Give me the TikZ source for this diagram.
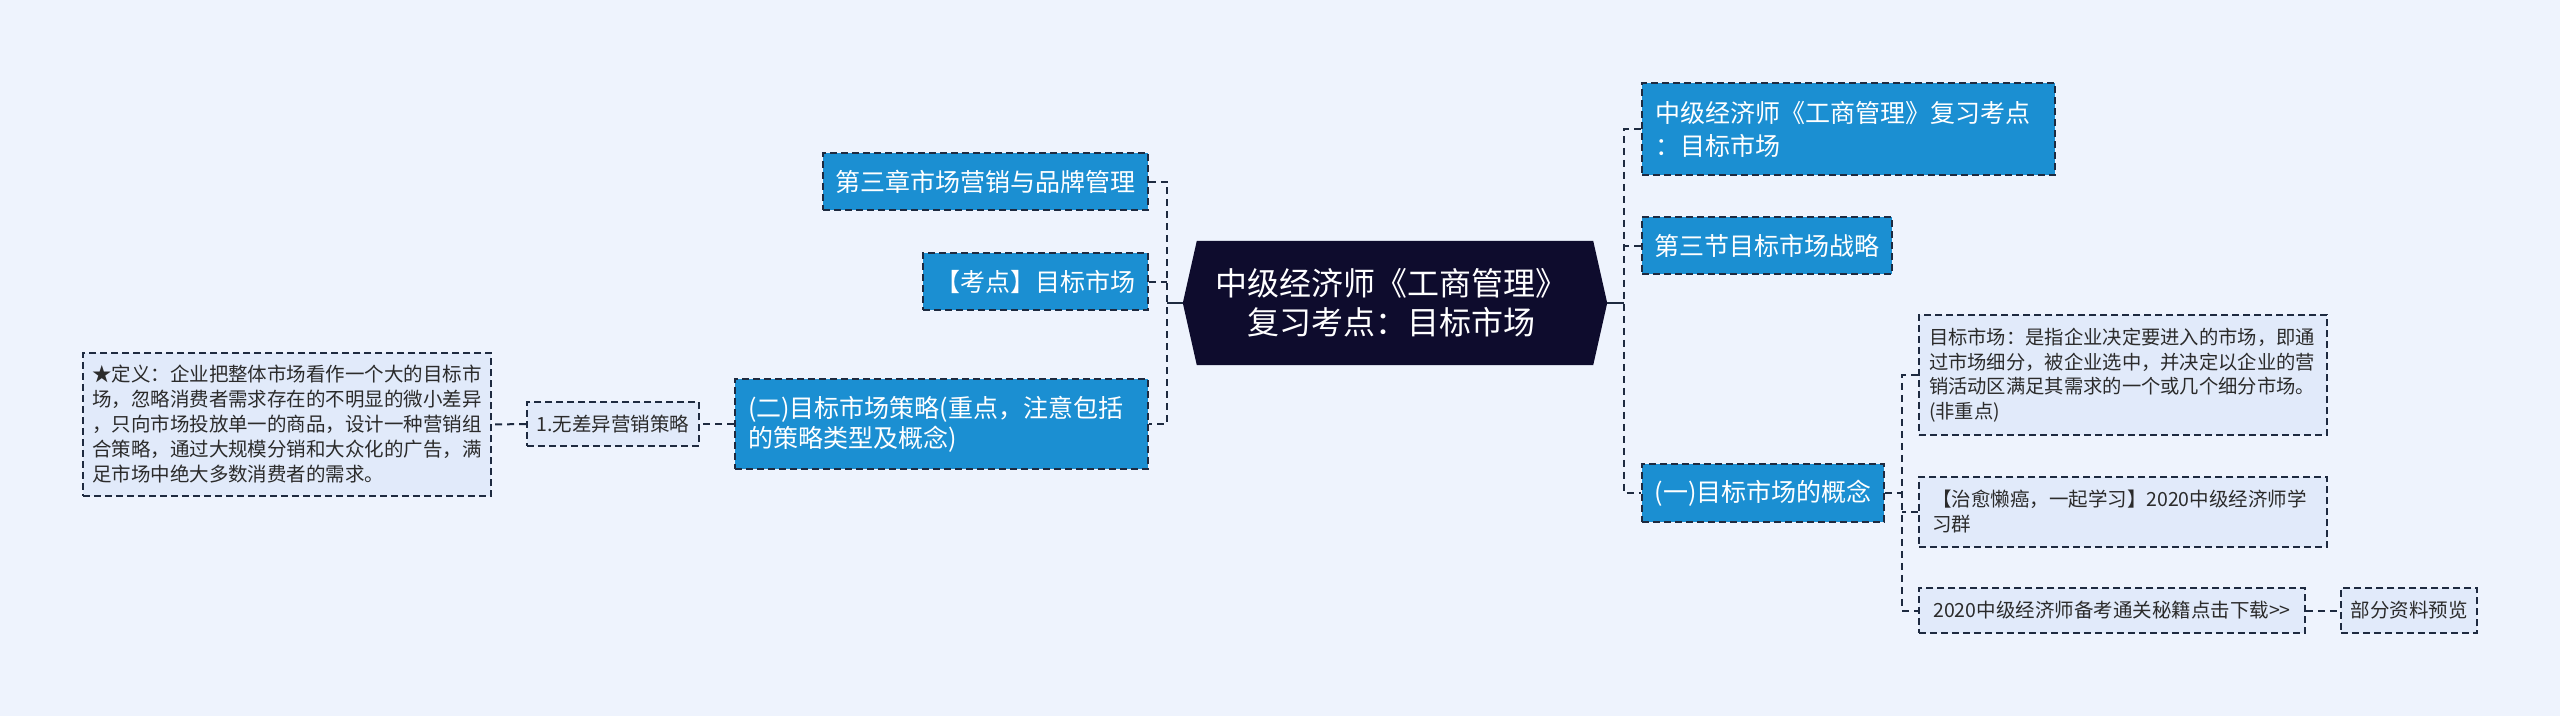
\documentclass[tikz,border=0pt]{standalone}
\usepackage{fontspec}
\newfontfamily\cjk{Noto Sans CJK SC}
\definecolor{pagec}{HTML}{EEF3FD}
\definecolor{bluec}{HTML}{1B8FD2}
\definecolor{rootc}{HTML}{0E0C2D}
\definecolor{leafc}{HTML}{E1EAFA}
\definecolor{linec}{HTML}{1E2A40}
\definecolor{textc}{HTML}{2B2B2B}
\pgfdeclarelayer{pagebg}
\pgfdeclarelayer{shapes}
\pgfsetlayers{pagebg,shapes,main}
\begin{document}
\begin{tikzpicture}[x=1pt,y=-1pt,
  conn/.style={draw=linec, line width=2pt, dash pattern=on 7pt off 5pt},
  solidconn/.style={draw=linec, line width=2pt},
  boxline/.style={draw=linec, line width=1.8pt, dash pattern=on 7pt off 4pt},
  bluebox/.style={boxline, fill=bluec, text=white, font=\cjk\fontsize{25}{32}\selectfont, align=left, inner sep=0pt},
  leafbox/.style={boxline, fill=leafc, text=textc, font=\cjk\fontsize{19.5}{24.5}\selectfont, align=left, inner sep=0pt},
  rootbox/.style={text=white, font=\cjk\fontsize{32}{39}\selectfont, align=center, inner sep=0pt}
]
\useasboundingbox (0,0) rectangle (2560,716);
\begin{pgfonlayer}{pagebg}
\fill[pagec] (0,0) rectangle (2560,716);
\end{pgfonlayer}

% root
\node[rootbox, minimum width=424pt, minimum height=124pt] (root) at (1391,303)
  {中级经济师《工商管理》\\复习考点：目标市场};
\begin{pgfonlayer}{shapes}
\fill[rootc] ([xshift=4pt]root.west) -- ([xshift=18pt]root.north west) -- ([xshift=-10pt]root.north east)
  -- ([xshift=4pt]root.east) -- ([xshift=-10pt]root.south east) -- ([xshift=18pt]root.south west) -- cycle;
\end{pgfonlayer}
\coordinate (rootL) at ([xshift=4pt]root.west);
\coordinate (rootR) at ([xshift=4pt]root.east);

% left branch
\node[bluebox, minimum width=325pt, minimum height=57pt] (b1) at (985.5,181.5) {第三章市场营销与品牌管理};
\node[bluebox, minimum width=225pt, minimum height=57pt] (b2) at (1035.5,281.5) {【考点】目标市场};
\node[bluebox, minimum height=90pt, inner xsep=13pt, text width=387pt, font=\cjk\fontsize{25}{30}\selectfont] (b3) at (941.5,424)
  {(二)目标市场策略(重点，注意包括\\的策略类型及概念)};
\node[leafbox, minimum width=172pt, minimum height=44pt] (n1) at (613,424) {1.无差异营销策略};
\node[leafbox, minimum height=143pt, inner xsep=9pt, text width=390pt, font=\cjk\fontsize{19.5}{25}\selectfont] (d) at (287,424.5)
  {★定义：企业把整体市场看作一个大的目标市\\场，忽略消费者需求存在的不明显的微小差异\\，只向市场投放单一的商品，设计一种营销组\\合策略，通过大规模分销和大众化的广告，满\\足市场中绝大多数消费者的需求。};

% right branch
\node[bluebox, minimum height=92pt, inner xsep=13pt, text width=387pt, font=\cjk\fontsize{25}{33}\selectfont] (r1) at (1848.5,129)
  {中级经济师《工商管理》复习考点\\：目标市场};
\node[bluebox, minimum width=250pt, minimum height=57pt] (r2) at (1767,245.5) {第三节目标市场战略};
\node[bluebox, minimum width=242pt, minimum height=58pt] (r3) at (1763,493) {(一)目标市场的概念};

\node[leafbox, minimum height=120pt, inner xsep=10pt, text width=388pt, font=\cjk\fontsize{19.3}{24.5}\selectfont] (l1) at (2123,375)
  {目标市场：是指企业决定要进入的市场，即通\\过市场细分，被企业选中，并决定以企业的营\\销活动区满足其需求的一个或几个细分市场。\\(非重点)};
\node[leafbox, minimum height=70pt, inner xsep=13pt, text width=382pt, font=\cjk\fontsize{19.5}{25}\selectfont] (l2) at (2123,512)
  {【治愈懒癌，一起学习】2020中级经济师学\\习群};
\node[leafbox, minimum width=386pt, minimum height=45pt] (l3) at (2112,610.5) {2020中级经济师备考通关秘籍点击下载>>};
\node[leafbox, minimum width=136pt, minimum height=45pt] (l4) at (2409,610.5) {部分资料预览};

% connector coordinates
\coordinate (lx) at (1167,0);
\coordinate (rx) at (1624,0);
\coordinate (cx3) at (1902,0);

% left connectors
\draw[solidconn] (rootL) -- (rootL -| lx);
\draw[conn] (b1.east) -- (b1.east -| lx) |- (b3.east);
\draw[conn] (b2.east) -- (b2.east -| lx);
\draw[conn] (b3.west) -- (n1.east);
\draw[conn] (n1.west) -- (d.east);

% right connectors
\draw[solidconn] (rootR) -- (rootR -| rx);
\draw[conn] (r1.west) -- (r1.west -| rx) |- (r3.west);
\draw[conn] (r2.west) -- (r2.west -| rx);
\draw[conn] (r3.east) -- (r3.east -| cx3);
\draw[conn] (l1.west) -- (l1.west -| cx3) |- (l3.west);
\draw[conn] (l2.west) -- (l2.west -| cx3);
\draw[conn] (l3.east) -- (l4.west);
\end{tikzpicture}
\end{document}
